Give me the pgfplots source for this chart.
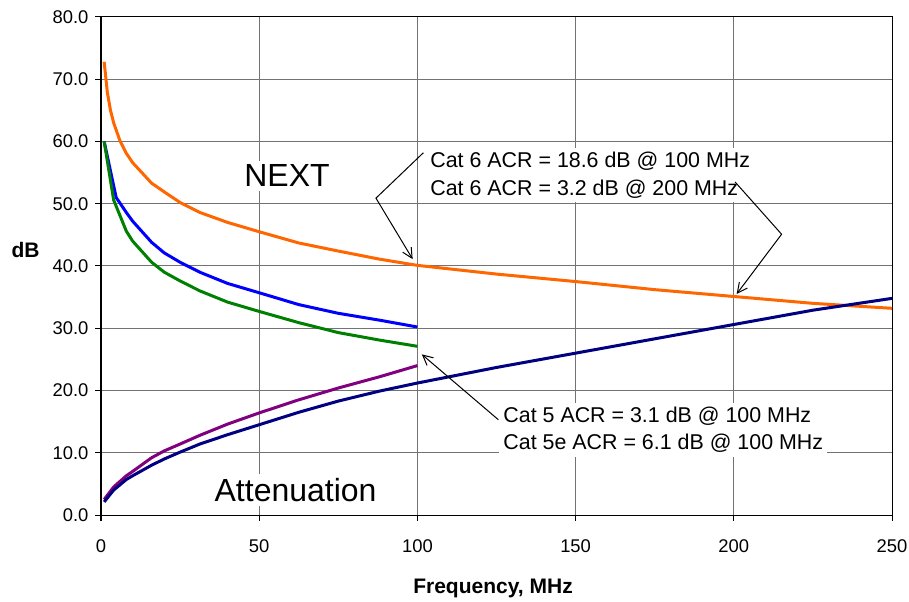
\documentclass[border=0pt]{standalone}
\usepackage{fontspec}
\setmainfont{Liberation Sans}
\usepackage{pgfplots}
\pgfplotsset{compat=1.18}
\usetikzlibrary{arrows.meta}
\definecolor{cat6next}{RGB}{255,102,0}
\definecolor{cat5enext}{RGB}{0,0,255}
\definecolor{cat5next}{RGB}{0,128,0}
\definecolor{cat5att}{RGB}{128,0,128}
\definecolor{cat6att}{RGB}{0,0,128}

\begin{document}
\begin{tikzpicture}
\begin{axis}[
  scale only axis,
  width=395.5pt, height=249pt,
  xmin=0, xmax=250, ymin=0, ymax=80,
  xtick={0,50,...,250}, ytick={0,10,...,80},
  xtick pos=left, ytick pos=left,
  tick align=outside, major tick length=2.75pt,
  grid=major,
  major grid style={line width=0.5pt, draw=black!55},
  axis line style={line width=0.5pt},
  tick style={line width=0.5pt, black},
  /pgf/number format/assume math mode=true,
  ticklabel style={font=\fontsize{9.2}{11}\selectfont},
  yticklabel style={/pgf/number format/fixed, /pgf/number format/fixed zerofill,
    /pgf/number format/precision=1},
  xticklabel style={/pgf/number format/fixed, yshift=-6pt},
  xlabel={Frequency, MHz},
  ylabel={dB},
  every axis x label/.style={at={(rel axis cs:0.4956,-0.1466)}, anchor=center,
    font=\fontsize{10.5}{12}\selectfont\bfseries},
  every axis y label/.style={at={(rel axis cs:-0.0954,0.532)}, anchor=center,
    font=\fontsize{10.5}{12}\selectfont\bfseries},
  clip=false,
  every axis plot/.append style={line width=1.5pt, no marks},
]
% Cat 6 NEXT
\addplot[cat6next] coordinates {
  (1,72.8)(2,67.9)(3,65.0)(4,63.0)(6,60.1)(8,58.1)(10,56.6)(16,53.3)(20,51.9)
  (25,50.2)(31.25,48.6)(40,47.0)(50,45.5)(62.5,43.7)(75,42.4)(88,41.1)(100,40.1)
  (125,38.7)(150,37.5)(175,36.2)(200,35.1)(225,34.0)(250,33.2)};
% Cat 5e NEXT
\addplot[cat5enext] coordinates {
  (1,60.0)(4.8,51.0)(8,48.6)(10,47.2)(16,43.8)(20,42.1)(25,40.6)(31.25,39.0)
  (40,37.2)(50,35.7)(62.5,33.8)(75,32.4)(88,31.3)(100,30.2)};
% Cat 5 NEXT
\addplot[cat5next] coordinates {
  (1,60.0)(4,50.6)(8,45.6)(10,44.0)(16,40.6)(20,39.0)(25,37.6)(31.25,36.0)
  (40,34.2)(50,32.7)(62.5,30.9)(75,29.3)(88,28.1)(100,27.1)};
% Cat 5 attenuation
\addplot[cat5att] coordinates {
  (1,2.5)(4,4.5)(8,6.3)(10,7.0)(16,9.2)(20,10.3)(25,11.4)(31.25,12.8)
  (40,14.6)(50,16.4)(62.5,18.5)(75,20.4)(88,22.2)(100,24.0)};
% Cat 6 attenuation
\addplot[cat6att] coordinates {
  (1,2.1)(4,4.0)(8,5.7)(10,6.3)(16,8.0)(20,9.0)(25,10.1)(31.25,11.4)(40,12.9)
  (50,14.5)(62.5,16.5)(75,18.3)(88,19.9)(100,21.2)(125,23.7)(150,26.0)
  (175,28.3)(200,30.6)(225,32.9)(250,34.8)};

\node[fill=white, inner sep=2pt, font=\fontsize{16}{18}\selectfont]
  at (axis cs:58.8,54.5) {NEXT};
\node[fill=white, inner sep=2pt, font=\fontsize{16}{18}\selectfont]
  at (axis cs:61.5,4.0) {Attenuation};
\node[fill=white, inner sep=2pt, anchor=west, align=left,
  font=\fontsize{10.7}{14}\selectfont]
  at (axis cs:102.7,54.6) {Cat 6 ACR = 18.6 dB @ 100 MHz\\Cat 6 ACR = 3.2 dB @ 200 MHz};
\node[fill=white, inner sep=2pt, anchor=west, align=left,
  font=\fontsize{10.7}{13.6}\selectfont]
  at (axis cs:125.8,13.65) {Cat 5 ACR = 3.1 dB @ 100 MHz\\Cat 5e ACR = 6.1 dB @ 100 MHz};

\draw[line width=0.5pt, -{Straight Barb[length=5pt,width=5pt]}]
  (axis cs:101.9,58.2) -- (axis cs:86.9,50.9) -- (axis cs:98.5,41.1);
\draw[line width=0.5pt, -{Straight Barb[length=5pt,width=5pt]}]
  (axis cs:200.4,53.5) -- (axis cs:215.1,45.1) -- (axis cs:200.9,35.5);
\draw[line width=0.5pt, -{Straight Barb[length=5pt,width=5pt]}]
  (axis cs:125.6,15.3) -- (axis cs:101.4,25.8);

\coordinate (bl) at (rel axis cs:-0.12769,-0.17269);
\coordinate (tr) at (rel axis cs:1.02149,1.03414);
\end{axis}
\pgfresetboundingbox
\useasboundingbox (bl) rectangle (tr);
\end{tikzpicture}
\end{document}
